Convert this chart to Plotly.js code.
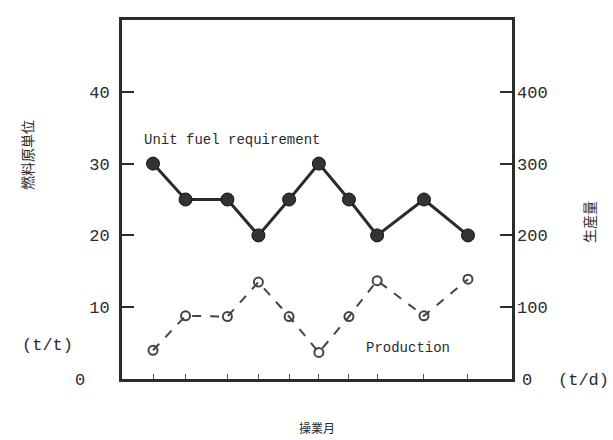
<!DOCTYPE html>
<html>
<head>
<meta charset="utf-8">
<script src="https://cdn.plot.ly/plotly-3.0.1.min.js"></script>
<style>html,body{margin:0;padding:0;background:#fff;}#chart{width:613px;height:440px;}</style>
</head>
<body>
<div id="chart"></div>
<script>
// Data
const periods = [1.0, 2.05, 3.4, 4.4, 5.39, 6.35, 7.32, 8.23, 9.74, 11.16];
const fuelRequirement = [30, 25, 25, 20, 25, 30, 25, 20, 25, 20];   // t/t (left axis)
const production = [40, 88, 87, 135, 87, 37, 87, 137, 88, 139];      // t/d (right axis)
const leftTicks = [10, 20, 30, 40];
const rightTicks = [100, 200, 300, 400];

const mono = "Liberation Mono, DejaVu Sans Mono, monospace";
const ink = "#2b2b2b";

const traces = [
  {
    x: periods, y: fuelRequirement, type: "scatter", mode: "lines+markers",
    name: "Unit fuel requirement", yaxis: "y",
    line: {color: ink, width: 3},
    marker: {symbol: "circle", size: 13, color: "#333", line: {color: "#111", width: 1}}
  },
  {
    x: periods, y: production, type: "scatter", mode: "lines+markers",
    name: "Production", yaxis: "y2",
    line: {color: "#444", width: 2, dash: "dash"},
    marker: {symbol: "circle-open", size: 9, color: "#444", line: {width: 2}}
  }
];

function note(text, px, py, opts) {
  return Object.assign({
    text: text, xref: "paper", yref: "paper",
    x: (px - 122) / 390, y: (379 - py) / 359,
    xanchor: "center", yanchor: "middle", showarrow: false,
    font: {family: mono, size: 17, color: ink}
  }, opts || {});
}

const layout = {
  width: 613, height: 440,
  margin: {l: 122, r: 101, t: 20, b: 61},
  paper_bgcolor: "#fff", plot_bgcolor: "#fff",
  showlegend: false,
  font: {family: mono, color: ink, size: 16},
  xaxis: {
    range: [0, 12.58], showgrid: false, zeroline: false,
    showline: true, linecolor: ink, linewidth: 3, mirror: true,
    tickvals: periods, ticks: "inside", ticklen: 5, tickwidth: 1, tickcolor: "#555",
    showticklabels: false
  },
  yaxis: {
    range: [0, 50], showgrid: false, zeroline: false,
    showline: true, linecolor: ink, linewidth: 3, mirror: true,
    tickvals: leftTicks, ticks: "inside", ticklen: 12, tickwidth: 2, tickcolor: ink,
    ticklabelstandoff: 6,
    tickfont: {family: mono, size: 17, color: ink}
  },
  yaxis2: {
    range: [0, 500], overlaying: "y", side: "right", showgrid: false, zeroline: false,
    showline: false,
    tickvals: rightTicks, ticks: "inside", ticklen: 12, tickwidth: 2, tickcolor: ink,
    ticklabelstandoff: 4,
    tickfont: {family: mono, size: 17, color: ink}
  },
  annotations: [
    note("Unit fuel requirement", 232, 140, {font: {family: mono, size: 14, color: ink}}),
    note("Production", 408, 348, {font: {family: mono, size: 14, color: ink}}),
    note("0", 80, 380),
    note("(t/t)", 47, 345),
    note("0", 527, 380),
    note("(t/d)", 583, 380),
    note("燃料原単位", 27, 155, {textangle: -90, font: {family: "Noto Sans CJK JP", size: 14, color: ink}}),
    note("生産量", 589, 222, {textangle: -90, font: {family: "Noto Sans CJK JP", size: 14, color: ink}}),
    note("操業月", 317, 427, {font: {family: "Noto Sans CJK JP", size: 12, color: ink}})
  ]
};

Plotly.newPlot("chart", traces, layout, {displayModeBar: false, staticPlot: true});
</script>
</body>
</html>
